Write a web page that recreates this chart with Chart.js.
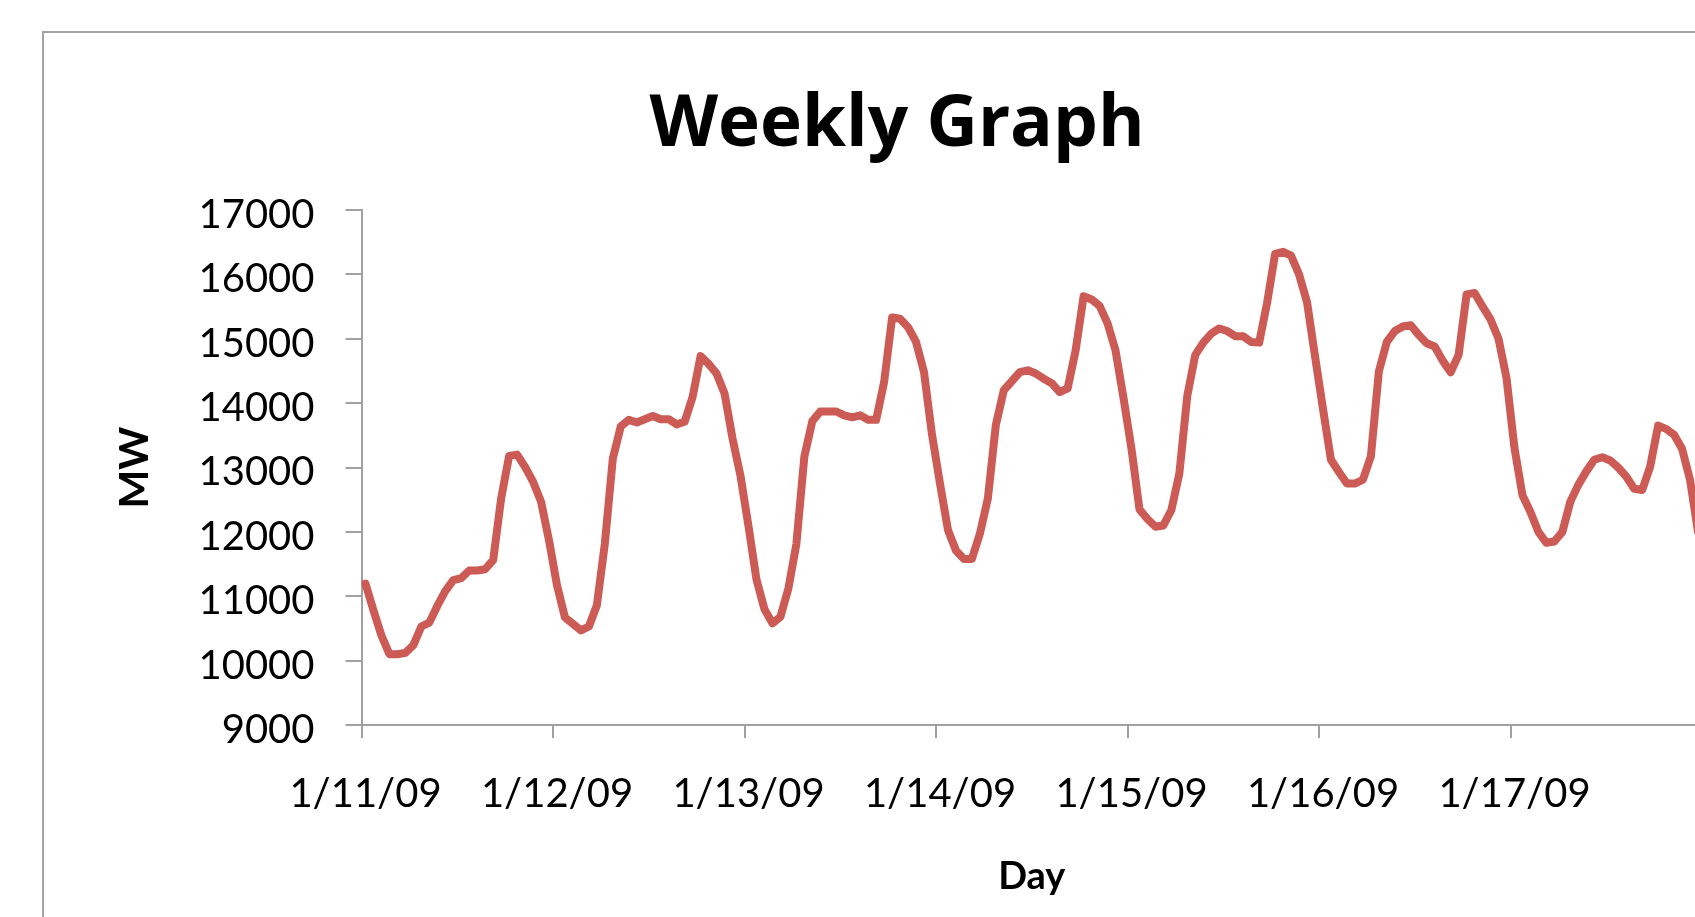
<!DOCTYPE html>
<html><head><meta charset="utf-8">
<script src="https://cdn.jsdelivr.net/npm/chart.js@4.4.1/dist/chart.umd.min.js"></script>
<style>
html,body{margin:0;padding:0;background:#fff;overflow:hidden;width:1695px;height:917px;}
#frame{position:absolute;left:42px;top:31px;width:2000px;height:2000px;border:2px solid #a3a3a3;}
#c{position:absolute;left:0;top:0;}
</style></head><body>
<div id="frame"></div>
<canvas id="c" width="1794" height="917"></canvas>
<script>
// Day labels (one tick every 24 hourly categories)
const dayLabels = ['1/11/09','1/12/09','1/13/09','1/14/09','1/15/09','1/16/09','1/17/09'];
// Y axis ticks
const yTicks = {min: 9000, max: 17000, step: 1000};
// Hourly load (MW), one value per hour
const day1 = [11195,10780,10390,10100,10100,10120,10240,10530,10590,10850,11080,11250,11280,11400,11400,11420,11560,12520,13180,13200,13010,12780,12470,11870];
const day2 = [11170,10670,10570,10470,10530,10860,11820,13140,13640,13740,13700,13750,13800,13750,13750,13670,13710,14100,14730,14610,14460,14150,13450,12870];
const day3 = [12090,11260,10800,10580,10680,11120,11810,13170,13720,13870,13870,13870,13810,13780,13810,13740,13740,14330,15330,15310,15180,14950,14480,13510];
const day4 = [12750,12030,11710,11580,11580,11970,12520,13660,14200,14340,14480,14510,14460,14380,14310,14170,14230,14820,15660,15610,15510,15240,14820,14080];
const day5 = [13290,12350,12200,12080,12100,12340,12910,14120,14750,14940,15080,15160,15120,15040,15040,14950,14940,15560,16320,16350,16290,16000,15570,14730];
const day6 = [13910,13120,12930,12750,12750,12810,13170,14490,14950,15120,15190,15210,15060,14930,14880,14660,14480,14750,15690,15710,15500,15300,15000,14390];
const day7 = [13300,12570,12310,12000,11830,11850,12000,12470,12730,12940,13120,13160,13110,13000,12860,12670,12650,13010,13650,13600,13510,13290,12810,12000];

const hourlyMW = [].concat(day1, day2, day3, day4, day5, day6, day7);
const hoursPerDay = 24;
const points = hourlyMW.map((v, i) => ({x: i + 0.5, y: v}));

const gray = '#a0a0a0';
new Chart(document.getElementById('c'), {
  type: 'line',
  data: {datasets: [{
    label: 'MW',
    data: points,
    borderColor: '#cd5b55',
    borderWidth: 8,
    borderJoinStyle: 'round',
    borderCapStyle: 'round',
    pointRadius: 0,
    tension: 0,
    fill: false
  }]},
  options: {
    responsive: false,
    animation: false,
    devicePixelRatio: 1,
    layout: {padding: 0},
    plugins: {
      legend: {display: false},
      tooltip: {enabled: false},
      title: {
        display: true,
        text: 'Weekly Graph',
        color: '#000',
        font: {family: 'Open Sans', size: 71, weight: 'bold', lineHeight: 1.2},
        padding: {top: 83.4, bottom: 41.4}
      }
    },
    scales: {
      x: {
        type: 'linear',
        min: 0,
        max: dayLabels.length * hoursPerDay,
        afterFit: s => { s.height = 192; },
        afterBuildTicks: s => {
          s.ticks = [];
          for (let d = 0; d <= dayLabels.length; d++) s.ticks.push({value: d * hoursPerDay});
        },
        ticks: {
          callback: v => dayLabels[Math.round(v / hoursPerDay)] || '',
          font: {family: 'Lato', size: 40},
          color: '#000',
          padding: 32.5,
          maxRotation: 0,
          autoSkip: false,
          labelOffset: 4
        },
        grid: {display: true, drawOnChartArea: false, drawTicks: true, tickLength: 13, color: gray, lineWidth: 2},
        border: {display: true, color: gray, width: 2},
        title: {display: true, text: 'Day', color: '#000', font: {family: 'Lato', size: 38, weight: 'bold'}, padding: {top: 0, bottom: 17}}
      },
      y: {
        type: 'linear',
        position: 'left',
        min: yTicks.min,
        max: yTicks.max,
        afterFit: s => { s.width = 361.5; },
        ticks: {
          stepSize: yTicks.step,
          callback: v => String(v),
          font: {family: 'Lato', size: 40},
          color: '#000',
          padding: 31,
          labelOffset: 5
        },
        grid: {display: true, drawOnChartArea: false, drawTicks: true, tickLength: 16, color: gray, lineWidth: 2},
        border: {display: true, color: gray, width: 2},
        title: {display: true, text: 'MW', color: '#000', font: {family: 'Lato', size: 41, weight: 'bold'}, padding: {top: 110, bottom: 0}}
      },
      yR: {
        type: 'linear',
        position: 'right',
        display: true,
        afterFit: s => { s.width = 92; },
        ticks: {display: false},
        grid: {display: false},
        border: {display: false}
      }
    }
  }
});
</script>
</body></html>
